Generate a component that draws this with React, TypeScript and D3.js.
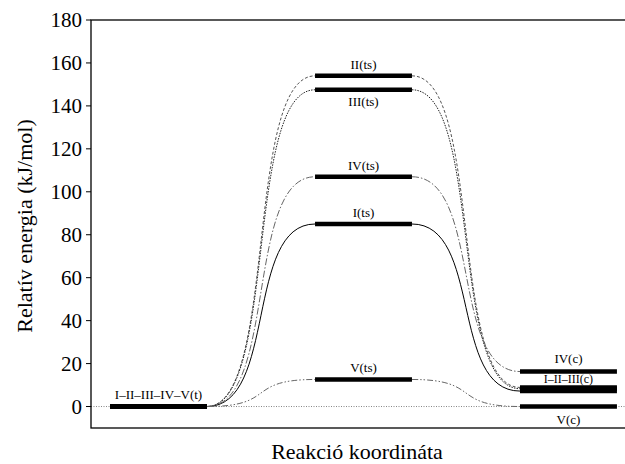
import React from "react";
import * as d3 from "d3";

// reaction stages on the x axis: reactant (t), transition state (ts), product (c)
const stages = ["t", "ts", "c"];
const species = ["I", "II", "III", "IV", "V"];

// relative energies, kJ/mol
const tEnergy = [0, 0, 0, 0, 0];
const tsEnergy = [85, 154, 147.5, 107, 12.6];
const cEnergy = [7.2, 8.9, 8.3, 16.3, 0];

const tsLabels = ["I(ts)", "II(ts)", "III(ts)", "IV(ts)", "V(ts)"];
const tLabel = "I–II–III–IV–V(t)";
const cLabels = ["I–II–III(c)", "IV(c)", "V(c)"];
const cLabelEnergy = [8.3, 16.3, 0];

const yTicks = [0, 20, 40, 60, 80, 100, 120, 140, 160, 180];

const W = 625;
const H = 464;
const margin = { top: 20, right: -11, bottom: 36, left: 91 };

// line look for each species
const dashes = ["none", "3,2", "1.5,1.2", "7,2,1.5,2", "6,2,1.5,2,1.5,2"];
const colors = ["#000", "#555", "#222", "#666", "#666"];

const FONT = "Liberation Serif";

const App = () => {
  const x = d3
    .scaleBand()
    .domain(stages)
    .range([margin.left, W - margin.right])
    .paddingInner(0.527)
    .paddingOuter(0.093);

  const y = d3
    .scaleLinear()
    .domain([-10, 180])
    .range([H - margin.bottom, margin.top]);

  const bw = x.bandwidth();
  const x0 = margin.left;
  const x1 = W - margin.right;

  // S-shaped connector between two levels
  const connector = (xa: number, ya: number, xb: number, yb: number) => {
    const p = d3.path();
    const a = 0.65 * (xb - xa);
    p.moveTo(xa, ya);
    p.bezierCurveTo(xa + a, ya, xb - a, yb, xb, yb);
    return p.toString();
  };

  return (
    <svg
      width={W}
      height={H}
      style={{ position: "absolute", left: 0, top: 0, background: "#fff" }}
    >
      {/* zero reference line */}
      <line
        x1={x0}
        x2={x1}
        y1={y(0)}
        y2={y(0)}
        stroke="#666"
        strokeWidth={0.8}
        strokeDasharray="1,1.5"
      />

      {/* connectors */}
      {species.map((s, i) => (
        <g key={s} fill="none" stroke={colors[i]} strokeWidth={1} strokeDasharray={dashes[i]}>
          <path d={connector(x("t")! + bw, y(tEnergy[i]), x("ts")!, y(tsEnergy[i]))} />
          <path d={connector(x("ts")! + bw, y(tsEnergy[i]), x("c")!, y(cEnergy[i]))} />
        </g>
      ))}

      {/* energy levels */}
      {species.map((s, i) => (
        <g key={s} stroke="#000" strokeWidth={4.5}>
          <line x1={x("t")} x2={x("t")! + bw} y1={y(tEnergy[i])} y2={y(tEnergy[i])} />
          <line x1={x("ts")} x2={x("ts")! + bw} y1={y(tsEnergy[i])} y2={y(tsEnergy[i])} />
          <line x1={x("c")} x2={x("c")! + bw} y1={y(cEnergy[i])} y2={y(cEnergy[i])} />
        </g>
      ))}

      {/* level labels */}
      <text
        x={x("t")! + bw / 2}
        y={y(0) - 8}
        fontSize={13}
        textAnchor="middle"
        style={{ fontFamily: FONT }}
      >
        {tLabel}
      </text>
      {tsLabels.map((l, i) => (
        <text
          key={l}
          x={x("ts")! + bw / 2}
          y={l === "III(ts)" ? y(tsEnergy[i]) + 16 : y(tsEnergy[i]) - 7}
          fontSize={13}
          textAnchor="middle"
          style={{ fontFamily: FONT }}
        >
          {l}
        </text>
      ))}
      {cLabels.map((l, i) => (
        <text
          key={l}
          x={x("c")! + bw / 2}
          y={
            l === "V(c)"
              ? y(cLabelEnergy[i]) + 17
              : l === "IV(c)"
              ? y(cLabelEnergy[i]) - 9
              : y(cLabelEnergy[i]) - 6
          }
          fontSize={l === "I–II–III(c)" ? 12 : 13}
          textAnchor="middle"
          style={{ fontFamily: FONT }}
        >
          {l}
        </text>
      ))}

      {/* frame */}
      <rect
        x={x0}
        y={margin.top}
        width={x1 - x0}
        height={H - margin.bottom - margin.top}
        fill="none"
        stroke="#000"
        strokeWidth={1.3}
      />

      {/* y ticks */}
      {yTicks.map((t) => (
        <g key={t}>
          <line x1={x0 - 5} x2={x0} y1={y(t)} y2={y(t)} stroke="#000" strokeWidth={1} />
          <text
            x={x0 - 9}
            y={y(t)}
            dy="0.35em"
            textAnchor="end"
            fontSize={21}
            style={{ fontFamily: FONT }}
          >
            {t}
          </text>
        </g>
      ))}

      <text
        transform={`translate(32,${(y(180) + y(-10)) / 2 + 2}) rotate(-90)`}
        textAnchor="middle"
        fontSize={22}
        style={{ fontFamily: FONT }}
      >
        Relatív energia (kJ/mol)
      </text>
      <text x={357} y={H - 5} textAnchor="middle" fontSize={22} style={{ fontFamily: FONT }}>
        Reakció koordináta
      </text>
    </svg>
  );
};

export default App;
